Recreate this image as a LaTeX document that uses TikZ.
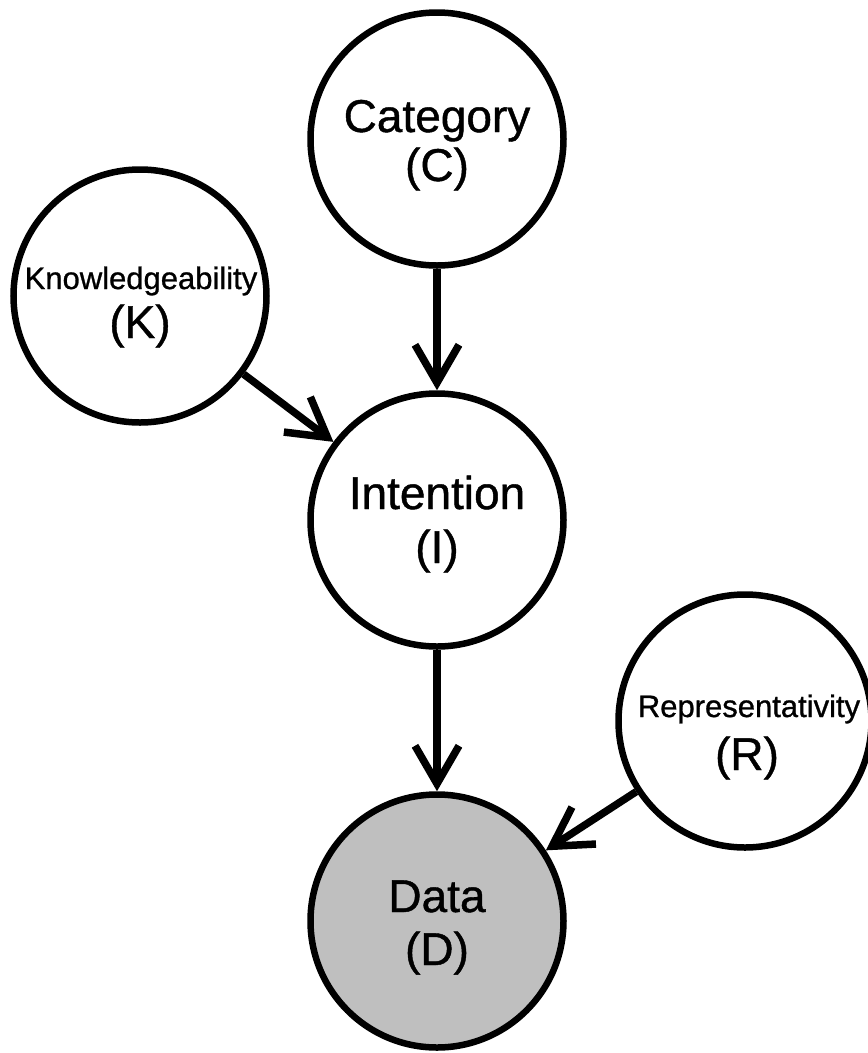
\documentclass[tikz,border=0pt]{standalone}
\usepackage{fontspec}
\setmainfont{Liberation Sans}[FakeBold=0.9]
\usetikzlibrary{arrows.meta}
\definecolor{datagray}{RGB}{191,191,191}
\tikzset{
  var/.style={circle, draw=black, line width=6.5pt, fill=white, minimum size=253pt, inner sep=0pt},
  obs/.style={var, fill=datagray},
  big/.style={font=\fontsize{46}{48}\selectfont, inner sep=0pt, anchor=base},
  small/.style={font=\fontsize{31}{33}\selectfont, inner sep=0pt, anchor=base},
  edge/.style={line width=7.5pt, -{Straight Barb[length=38pt, width=44pt]}}
}
\begin{document}
\begin{tikzpicture}[x=1pt, y=-1pt]
\useasboundingbox (0,0) rectangle (868,1053);
\node[var] (C) at (437,139) {};
\node[var] (K) at (140,296) {};
\node[var] (I) at (437,520) {};
\node[var] (R) at (745,721) {};
\node[obs] (D) at (437,921) {};

\node[big] (Ct1) at (437,132) {Category};
\node[big] (Ct2) at (437,181) {(C)};
\node[small] (Kt1) at (141,289) {Knowledgeability};
\node[big] (Kt2) at (140,338) {(K)};
\node[big] (It1) at (437,509) {Intention};
\node[big] (It2) at (437,563) {(I)};
\node[small] (Rt1) at (749,717) {Representativity};
\node[big] (Rt2) at (747,770) {(R)};
\node[big] (Dt1) at (437,912) {Data};
\node[big] (Dt2) at (437,965) {(D)};

\draw[edge] (C) -- (I);
\draw[edge] (K) -- (I);
\draw[edge] (I) -- (D);
\draw[edge] (R) -- (D);
\end{tikzpicture}
\end{document}
